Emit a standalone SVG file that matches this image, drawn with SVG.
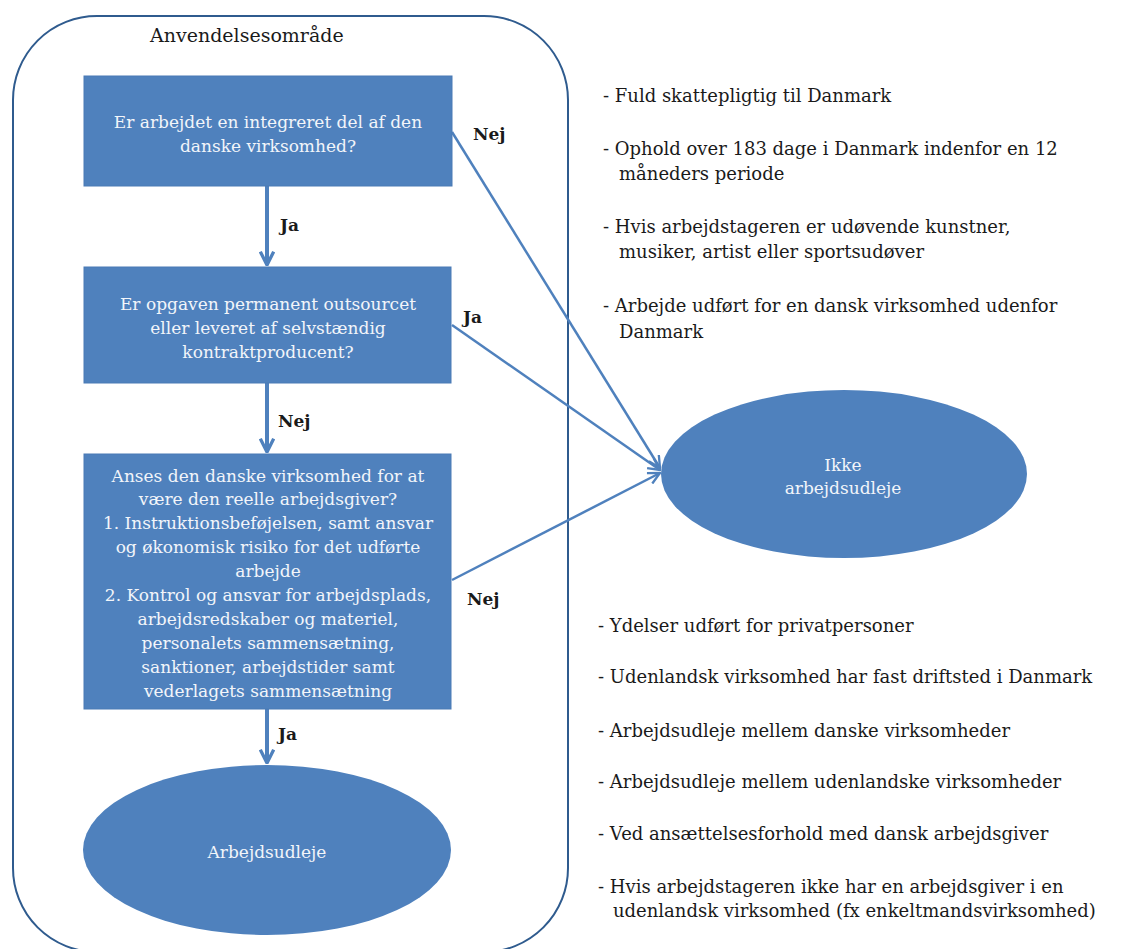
<svg xmlns="http://www.w3.org/2000/svg" width="1132" height="949" viewBox="0 0 1132 949">
<defs>
<style>
.box{fill:#4f81bd;stroke:#4a7ab5;stroke-width:1}
.wt{font-family:"DejaVu Serif","Liberation Serif",serif;font-size:17px;fill:#f2f5fa;text-anchor:middle}
.bt{font-family:"DejaVu Serif","Liberation Serif",serif;font-size:18px;fill:#1a1a1a}
.title{font-size:19px}
.lbl{font-family:"DejaVu Serif","Liberation Serif",serif;font-size:17px;fill:#1a1a1a;font-weight:bold}
.con{stroke:#4f81bd;fill:none;stroke-width:2.5}
.vcon{stroke:#4f81bd;fill:none;stroke-width:4}
</style>
<marker id="arr" viewBox="0 0 12 12" refX="11" refY="6" markerWidth="14" markerHeight="14" markerUnits="userSpaceOnUse" orient="auto">
<path d="M1,1 L11,6 L1,11" fill="none" stroke="#4f81bd" stroke-width="2"/>
</marker>
<marker id="arrv" viewBox="0 0 12 12" refX="11" refY="6" markerWidth="16" markerHeight="16" markerUnits="userSpaceOnUse" orient="auto">
<path d="M1,1 L11,6 L1,11" fill="none" stroke="#4f81bd" stroke-width="2.5"/>
</marker>
</defs>
<rect width="1132" height="949" fill="#ffffff"/>

<g id="scope">
<rect x="13" y="16" width="555" height="936" rx="84" ry="84" fill="none" stroke="#2f5b8e" stroke-width="2"/>
<text class="bt title" x="150" y="42">Anvendelsesområde</text>
</g>

<g id="connectors">
<line class="vcon" x1="267" y1="186" x2="267" y2="265" marker-end="url(#arrv)"/>
<line class="vcon" x1="267" y1="383" x2="267" y2="452" marker-end="url(#arrv)"/>
<line class="vcon" x1="267" y1="709" x2="267" y2="763" marker-end="url(#arrv)"/>
<line class="con" x1="452" y1="132" x2="660" y2="468" marker-end="url(#arr)"/>
<line class="con" x1="452" y1="325" x2="660" y2="470" marker-end="url(#arr)"/>
<line class="con" x1="452" y1="580" x2="660" y2="473" marker-end="url(#arr)"/>
<text class="lbl" x="280" y="231">Ja</text>
<text class="lbl" x="278" y="427">Nej</text>
<text class="lbl" x="278" y="740">Ja</text>
<text class="lbl" x="473" y="140">Nej</text>
<text class="lbl" x="463" y="323">Ja</text>
<text class="lbl" x="467" y="605">Nej</text>
</g>

<g id="q1">
<rect class="box" x="84" y="76" width="368" height="110"/>
<text class="wt" x="268" y="128">Er arbejdet en integreret del af den</text>
<text class="wt" x="268" y="152">danske virksomhed?</text>
</g>

<g id="q2">
<rect class="box" x="84" y="267" width="367" height="116"/>
<text class="wt" x="268" y="310">Er opgaven permanent outsourcet</text>
<text class="wt" x="268" y="334">eller leveret af selvstændig</text>
<text class="wt" x="268" y="358">kontraktproducent?</text>
</g>

<g id="q3">
<rect class="box" x="84" y="454" width="367" height="255"/>
<text class="wt" x="268" y="482">Anses den danske virksomhed for at</text>
<text class="wt" x="268" y="505">være den reelle arbejdsgiver?</text>
<text class="wt" x="268" y="529">1. Instruktionsbeføjelsen, samt ansvar</text>
<text class="wt" x="268" y="553">og økonomisk risiko for det udførte</text>
<text class="wt" x="268" y="577">arbejde</text>
<text class="wt" x="268" y="601">2. Kontrol og ansvar for arbejdsplads,</text>
<text class="wt" x="268" y="625">arbejdsredskaber og materiel,</text>
<text class="wt" x="268" y="649">personalets sammensætning,</text>
<text class="wt" x="268" y="673">sanktioner, arbejdstider samt</text>
<text class="wt" x="268" y="697">vederlagets sammensætning</text>
</g>

<g id="arbejdsudleje">
<ellipse cx="267" cy="850" rx="184" ry="85" fill="#4f81bd"/>
<text class="wt" x="267" y="858">Arbejdsudleje</text>
</g>

<g id="ikke">
<ellipse cx="844" cy="474" rx="183" ry="84" fill="#4f81bd"/>
<text class="wt" x="843" y="471">Ikke</text>
<text class="wt" x="843" y="494">arbejdsudleje</text>
</g>

<g id="list-top">
<text class="bt" x="603" y="102">- Fuld skattepligtig til Danmark</text>
<text class="bt" x="603" y="155">- Ophold over 183 dage i Danmark indenfor en 12</text>
<text class="bt" x="619" y="180">måneders periode</text>
<text class="bt" x="603" y="233">- Hvis arbejdstageren er udøvende kunstner,</text>
<text class="bt" x="619" y="258">musiker, artist eller sportsudøver</text>
<text class="bt" x="603" y="312">- Arbejde udført for en dansk virksomhed udenfor</text>
<text class="bt" x="619" y="338">Danmark</text>
</g>

<g id="list-bottom">
<text class="bt" x="598" y="632">- Ydelser udført for privatpersoner</text>
<text class="bt" x="598" y="683">- Udenlandsk virksomhed har fast driftsted i Danmark</text>
<text class="bt" x="598" y="737">- Arbejdsudleje mellem danske virksomheder</text>
<text class="bt" x="598" y="788">- Arbejdsudleje mellem udenlandske virksomheder</text>
<text class="bt" x="598" y="840">- Ved ansættelsesforhold med dansk arbejdsgiver</text>
<text class="bt" x="598" y="893">- Hvis arbejdstageren ikke har en arbejdsgiver i en</text>
<text class="bt" x="613" y="917">udenlandsk virksomhed (fx enkeltmandsvirksomhed)</text>
</g>
</svg>
